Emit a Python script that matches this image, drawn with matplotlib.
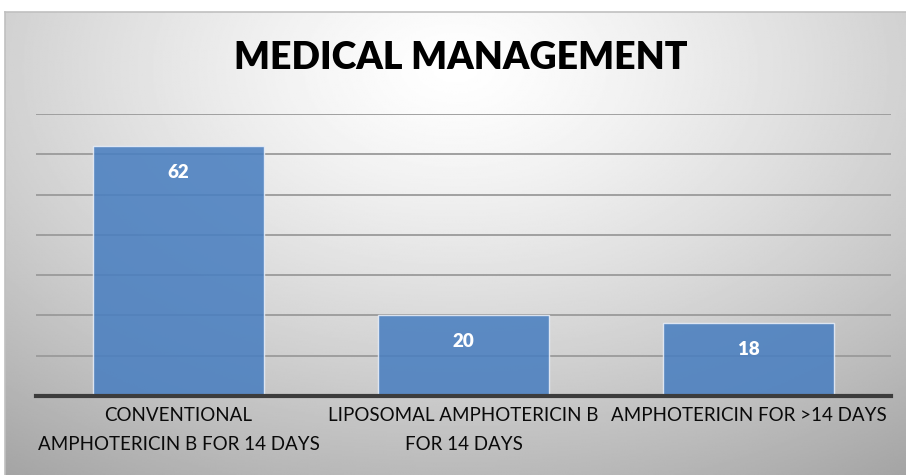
import matplotlib.pyplot as plt
import numpy as np

categories = ["CONVENTIONAL\nAMPHOTERICIN B FOR 14 DAYS",
              "LIPOSOMAL AMPHOTERICIN B\nFOR 14 DAYS",
              "AMPHOTERICIN FOR >14 DAYS"]
values = [62, 20, 18]

plt.rcParams['font.family'] = ['Lato', 'DejaVu Sans']

fig = plt.figure(figsize=(9.06, 4.75), dpi=100)

# radial grey background
bg = fig.add_axes([5 / 906, 0, 1 - 5 / 906, 1 - 12 / 475])
yy, xx = np.mgrid[0:1:300j, 0:1:600j]
r = np.sqrt(((xx - 0.5) / 0.75) ** 2 + ((yy - 0.12) / 0.95) ** 2)
shade = np.clip(1 - 0.3 * r ** 1.3, 0, 1)
bg.imshow(shade, cmap='gray', vmin=0, vmax=1, aspect='auto',
          extent=[0, 1, 1, 0], interpolation='bilinear')
bg.set_xlim(0, 1)
bg.set_ylim(1, 0)
bg.set_xticks([])
bg.set_yticks([])
for s in bg.spines.values():
    s.set_color('#c0c0c0')
    s.set_linewidth(1.2)
bg.spines['right'].set_visible(False)
bg.spines['bottom'].set_visible(False)

ax = fig.add_axes([36 / 906, 1 - 396 / 475, 855 / 906, 282 / 475])
ax.patch.set_alpha(0)
x = np.arange(len(values))
bars = ax.bar(x, values, width=0.6, color='#4a7fc0', alpha=0.88,
              edgecolor='#e8eef8', linewidth=1.0, zorder=3)
ax.set_xlim(-0.5, 2.5)
ax.set_ylim(0, 70)
ax.set_yticks(np.arange(10, 71, 10))
ax.yaxis.grid(True, color='#9a9a9a', linewidth=1.3, zorder=1)
ax.tick_params(axis='y', left=False, labelleft=False)
ax.tick_params(axis='x', length=0, pad=8)
ax.set_xticks(x)
ax.set_xticklabels(categories, fontsize=13.5, linespacing=1.85, color='#0a0a0a')
for s in ['top', 'right', 'left']:
    ax.spines[s].set_visible(False)
ax.spines['bottom'].set_color('#3c3c3c')
ax.spines['bottom'].set_linewidth(3)
ax.spines['bottom'].set_zorder(4)

for b, v in zip(bars, values):
    ax.text(b.get_x() + b.get_width() / 2, v - 6.4, str(v), ha='center',
            va='center', color='white', fontsize=13.5, fontweight='heavy', zorder=5)

fig.text(461 / 906, 1 - 58 / 475, "MEDICAL MANAGEMENT", ha='center', va='center',
         fontsize=27, fontweight='heavy', color='#000000')

fig.savefig("out.png", dpi=100)
